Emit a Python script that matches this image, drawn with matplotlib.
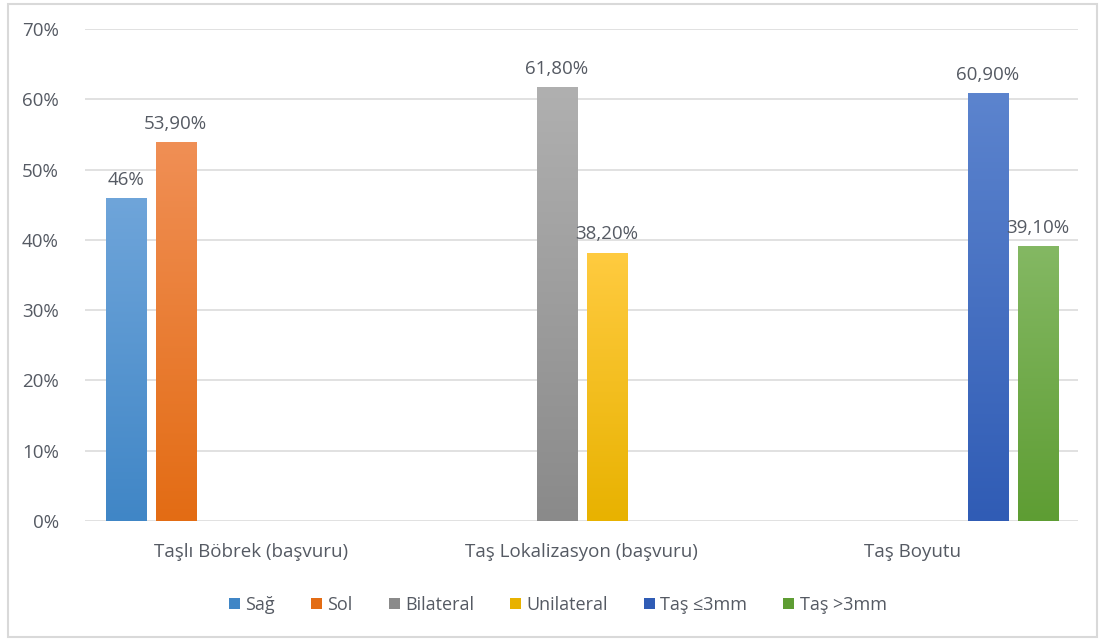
import numpy as np
import matplotlib.pyplot as plt
from matplotlib.colors import LinearSegmentedColormap
from matplotlib.patches import Rectangle
from matplotlib.ticker import PercentFormatter

plt.rcParams['font.family'] = ['Open Sans', 'DejaVu Sans']

categories = ['Taşlı Böbrek (başvuru)', 'Taş Lokalizasyon (başvuru)', 'Taş Boyutu']
series = ['Sağ', 'Sol', 'Bilateral', 'Unilateral', 'Taş ≤3mm', 'Taş >3mm']
series_cat = [0, 0, 1, 1, 2, 2]
values = [46.0, 53.9, 61.8, 38.2, 60.9, 39.1]
labels = ['46%', '53,90%', '61,80%', '38,20%', '60,90%', '39,10%']
# top / bottom colours of the gradient fill
tops = ['#6fa5da', '#f08f55', '#b0b0b0', '#ffcb40', '#5c84ce', '#84b863']
bottoms = ['#4086c6', '#e36c14', '#8a8a8a', '#e8b200', '#305cb5', '#5e9d33']

txt = '#555a63'
fig = plt.figure(figsize=(11.05, 6.42), dpi=100)
ax = fig.add_axes([0.077, 0.1885, 0.899, 0.766])

slot = 0.151
width = 0.121
for i, s in enumerate(series):
    x = series_cat[i] + (i - 2.5) * slot
    bar = ax.bar(x, values[i], width, color=bottoms[i], label=s, zorder=2)[0]
    cmap = LinearSegmentedColormap.from_list('g', [bottoms[i], tops[i]])
    grad = np.linspace(0, 1, 256).reshape(-1, 1)
    im = ax.imshow(grad, cmap=cmap, origin='lower', aspect='auto', zorder=3,
                   extent=[x - width / 2, x + width / 2, 0, values[i]])
    im.set_clip_path(bar)
    ax.text(x, values[i] + 1.3, labels[i], ha='center', va='bottom',
            fontsize=13.5, color=txt)

ax.set_xlim(-0.5, 2.5)
ax.set_ylim(0, 70)
ax.set_yticks(np.arange(0, 71, 10))
ax.yaxis.set_major_formatter(PercentFormatter(decimals=0))
ax.set_xticks(range(len(categories)))
ax.set_xticklabels(categories)
ax.tick_params(length=0, labelsize=13.5, labelcolor=txt)
ax.tick_params(axis='x', pad=16)
ax.tick_params(axis='y', pad=19)
ax.grid(axis='y', color='#dcdcdc', linewidth=1.2, zorder=0)
for sp in ax.spines.values():
    sp.set_visible(False)

h, l = ax.get_legend_handles_labels()
leg = fig.legend(h, l, loc='center', bbox_to_anchor=(0.505, 0.058), ncol=6,
                 frameon=False, fontsize=13, handlelength=0.6, handleheight=0.6,
                 handletextpad=0.3, columnspacing=2.0)
for t in leg.get_texts():
    t.set_color(txt)

fig.patches.append(Rectangle((0.007, 0.008), 0.986, 0.985, transform=fig.transFigure,
                             fill=False, edgecolor='#d9d9d9', linewidth=1.5))
fig.savefig('out.png', dpi=100)
